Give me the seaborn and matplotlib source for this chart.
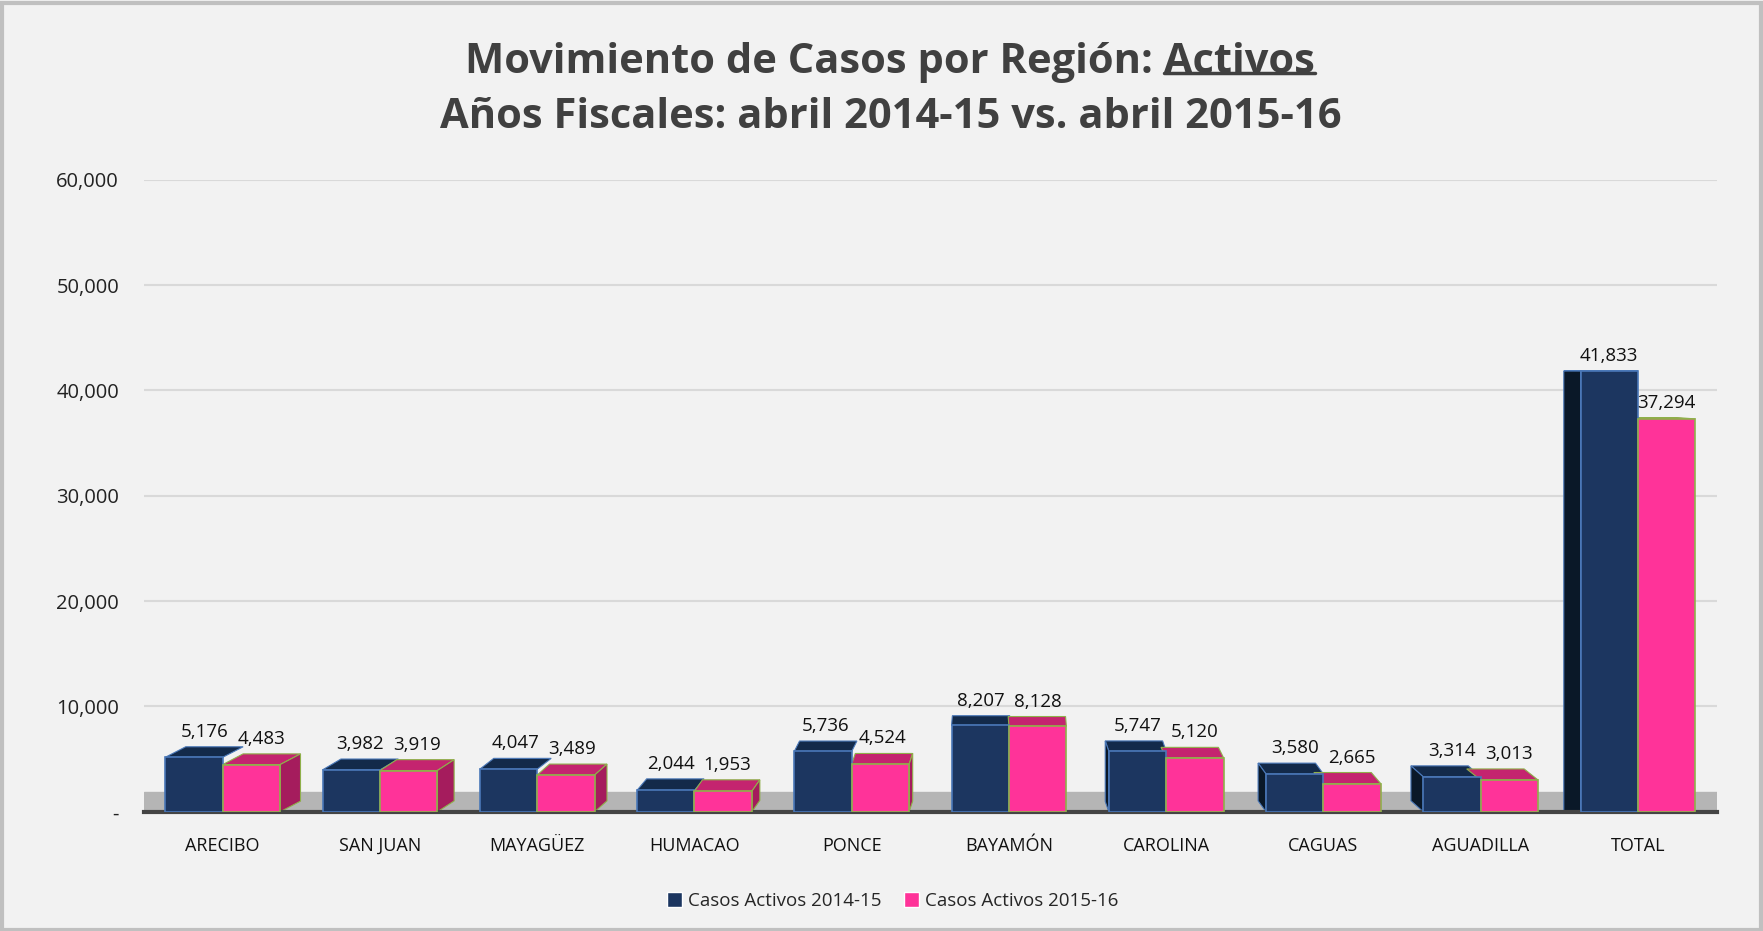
import numpy as np
import pandas as pd
import matplotlib
matplotlib.use('Agg')
import matplotlib.pyplot as plt
from matplotlib.patches import Polygon
import seaborn as sns

regiones = ['ARECIBO', 'SAN JUAN', 'MAYAGÜEZ', 'HUMACAO', 'PONCE',
            'BAYAMÓN', 'CAROLINA', 'CAGUAS', 'AGUADILLA', 'TOTAL']
activos_2014_15 = [5176, 3982, 4047, 2044, 5736, 8207, 5747, 3580, 3314, 41833]
activos_2015_16 = [4483, 3919, 3489, 1953, 4524, 8128, 5120, 2665, 3013, 37294]
series = ['Casos Activos 2014-15', 'Casos Activos 2015-16']
y_ticks = [0, 10000, 20000, 30000, 40000, 50000, 60000]

df = pd.DataFrame({
    'region': regiones * 2,
    'serie': [series[0]] * len(regiones) + [series[1]] * len(regiones),
    'casos': activos_2014_15 + activos_2015_16,
})

sns.set_style('white')
plt.rcParams['font.family'] = ['Open Sans', 'DejaVu Sans']

bg = '#f2f2f2'
fig = plt.figure(figsize=(17.63, 9.31), dpi=100, facecolor=bg)
ax = fig.add_axes([0.0817, 0.128, 0.892, 0.679])
ax.set_facecolor(bg)

# gray floor
ax.axhspan(0, 1900, color='#b5b5b5', zorder=0.5)

sns.barplot(data=df, x='region', y='casos', hue='serie', order=regiones,
            hue_order=series, palette=['#1c3660', '#ff3399'], width=0.73,
            gap=0, saturation=1, ax=ax, zorder=3, legend=True)
ax.set_ylim(0, 60000)
ax.set_xlim(-0.5, len(regiones) - 0.5)

# pseudo 3D faces (top + outer side) derived from each bar's geometry
px_y = 0.679 * 931 / 60000            # pixels per y unit
vanish = 5.0
top_c = ['#132a4a', '#c4246f']
side_c = ['#0a1828', '#a51c5d']
edge = ['#4a78b8', '#8fb04a']
for k, cont in enumerate(ax.containers):
    for p, v in zip(cont, cont.datavalues):
        x0, w, h = p.get_x(), p.get_width(), p.get_height()
        xc = x0 + w / 2
        dx = np.clip((vanish - xc) * 0.028, -0.19, 0.13)
        dy_px = max(0.0, 12 * (1 - h / 42000))
        dy = dy_px / px_y
        top = Polygon([(x0, h), (x0 + dx, h + dy), (x0 + w + dx, h + dy),
                       (x0 + w, h)], closed=True, facecolor=top_c[k],
                      edgecolor=edge[k], linewidth=0.8, zorder=2)
        ax.add_patch(top)
        sx = x0 + w if dx > 0 else x0
        side = Polygon([(sx, 0), (sx + dx, dy), (sx + dx, h + dy), (sx, h)],
                       closed=True, facecolor=side_c[k], edgecolor=edge[k],
                       linewidth=0.8, zorder=2 if k == 0 else 2.5)
        if (dx > 0 and k == 1) or (dx < 0 and k == 0):
            ax.add_patch(side)
        p.set_edgecolor(edge[k])
        p.set_linewidth(1.2)
        ax.annotate(f'{v:,.0f}', (xc + max(dx, 0) / 2, h),
                    xytext=(0, dy_px + 6), textcoords='offset pixels',
                    ha='center', va='bottom', fontsize=13.5,
                    color='#111111', zorder=5)

ax.set_yticks(y_ticks)
ax.set_yticklabels(['-' if v == 0 else f'{v:,}' for v in y_ticks],
                   fontsize=14.5, color='#222222')
ax.set_xlabel('')
ax.set_ylabel('')
ax.tick_params(axis='x', labelsize=13, colors='#111111', pad=18, length=0)
ax.tick_params(axis='y', pad=18, length=0)
ax.yaxis.grid(True, color='#d9d9d9', linewidth=1.5, zorder=0)
ax.set_axisbelow(True)
for s in ['top', 'right', 'left']:
    ax.spines[s].set_visible(False)
ax.spines['bottom'].set_color('#444444')
ax.spines['bottom'].set_linewidth(3)

ax.legend(loc='upper center', bbox_to_anchor=(0.476, -0.1), ncol=2,
          frameon=False, fontsize=13.5, handlelength=0.8,
          handleheight=0.8, handletextpad=0.3, columnspacing=1.2)

# title with underlined word
t1_left = 'Movimiento de Casos por Región: '
t1_word = 'Activos'
tsize = 30
t1 = fig.text(0.505, 0.933, t1_left + t1_word, ha='center', va='center',
              fontsize=tsize, fontweight='bold', color='#404040')
fig.text(0.505, 0.874, 'Años Fiscales: abril 2014-15 vs. abril 2015-16',
         ha='center', va='center', fontsize=tsize, fontweight='bold',
         color='#404040')
fig.canvas.draw()
r = fig.canvas.get_renderer()
bb = t1.get_window_extent(r)
tw = fig.text(0, 0, t1_word, fontsize=tsize, fontweight='bold')
wb = tw.get_window_extent(r)
tw.remove()
x0 = (bb.x1 - wb.width) / fig.bbox.width
x1 = bb.x1 / fig.bbox.width
yu = (bb.y0 + 10) / fig.bbox.height
fig.add_artist(plt.Line2D([x0, x1], [yu, yu], color='#404040', linewidth=2.5,
                          transform=fig.transFigure))

# outer frame
fig.add_artist(plt.Rectangle((0.001, 0.001), 0.998, 0.996, fill=False,
                             edgecolor='#c0c0c0', linewidth=3,
                             transform=fig.transFigure))

fig.savefig('out.png', dpi=100, facecolor=bg)
